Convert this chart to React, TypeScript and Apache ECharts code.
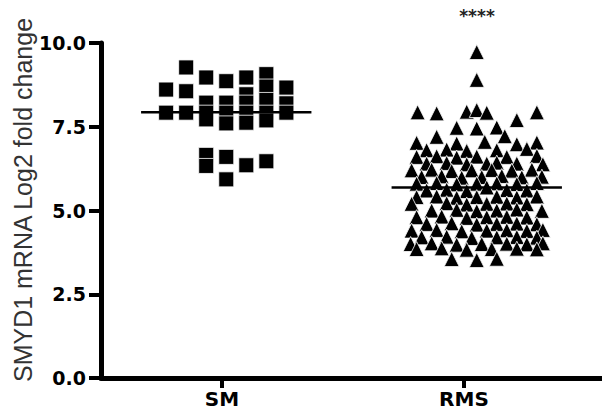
import React, { useEffect, useRef } from 'react';
import * as echarts from 'echarts';

// ---- data ----
const categories = ['SM', 'RMS'];
const groupCenters = [0.5, 1.5];
const categoryTickPositions = [0.483, 1.449];
const yMin = 0;
const yMax = 10;
const yInterval = 2.5;
const yTitle = 'SMYD1 mRNA Log2 fold change';
const significance = '****';

const smValues = [
  8.61, 7.92,
  9.27, 8.56, 7.92,
  8.97, 8.22, 7.92, 7.72, 6.66, 6.33,
  8.86, 8.22, 7.92, 7.6, 6.6, 5.93,
  8.97, 8.47, 8.22, 7.92, 7.62, 6.35,
  9.07, 8.7, 8.3, 7.92, 7.69, 6.47,
  8.67, 8.2, 7.92,
];
const smJitter = [
  -0.24, -0.24,
  -0.16, -0.16, -0.16,
  -0.08, -0.08, -0.08, -0.08, -0.08, -0.08,
  0, 0, 0, 0, 0, 0,
  0.08, 0.08, 0.08, 0.08, 0.08, 0.08,
  0.16, 0.16, 0.16, 0.16, 0.16, 0.16,
  0.24, 0.24, 0.24,
];

const rmsValues = [
  9.73, 8.9,
  7.93, 7.9, 7.95, 8.0, 7.92, 7.93,
  7.7, 7.47, 7.45, 7.48, 7.2, 7.22,
  7.02, 7.0, 7.05, 6.98, 7.03,
  6.8, 6.82, 6.78, 6.8, 6.84,
  6.6, 6.62, 6.58, 6.61, 6.6, 6.63,
  6.4, 6.42, 6.38, 6.4, 6.43, 6.4, 6.38,
  6.2, 6.22, 6.18, 6.2, 6.21, 6.19, 6.22,
  6.0, 6.02, 5.98, 6.0, 6.03, 5.99, 6.01,
  5.8, 5.82, 5.78, 5.8, 5.81, 5.79, 5.82,
  5.6, 5.62, 5.58, 5.69, 5.61, 5.6,
  5.4, 5.42, 5.38, 5.4, 5.41, 5.39, 5.42,
  5.2, 5.22, 5.18, 5.2, 5.21, 5.19,
  5.0, 5.02, 4.98, 5.0, 5.03, 4.99,
  4.8, 4.82, 4.78, 4.8, 4.81, 4.79,
  4.6, 4.62, 4.58, 4.6, 4.61, 4.59,
  4.4, 4.42, 4.38, 4.4, 4.41, 4.39, 4.42,
  4.2, 4.22, 4.18, 4.2, 4.21, 4.19,
  4.0, 4.02, 3.98, 4.0, 4.01, 3.99, 4.02,
  3.85, 3.87, 3.83, 3.85, 3.86, 3.84,
  3.55, 3.52, 3.56,
];
const rmsJitter = [
  0, 0,
  -0.236, -0.16, -0.04, 0, 0.04, 0.24,
  0.16, -0.08, 0, 0.08, -0.16, 0.112,
  -0.24, -0.08, 0.032, 0.16, 0.24,
  -0.2, -0.12, -0.04, 0.08, 0.2,
  -0.24, -0.16, -0.08, 0, 0.12, 0.24,
  -0.2, -0.12, -0.04, 0.04, 0.08, 0.16, 0.264,
  -0.26, -0.18, -0.1, -0.02, 0.06, 0.14, 0.22,
  -0.22, -0.14, -0.06, 0.02, 0.1, 0.18, 0.26,
  -0.24, -0.16, -0.08, 0, 0.08, 0.16, 0.24,
  -0.2, -0.12, -0.04, 0.04, 0.12, 0.2,
  -0.24, -0.16, -0.08, 0, 0.08, 0.16, 0.24,
  -0.26, -0.12, -0.04, 0.04, 0.12, 0.2,
  -0.18, -0.08, 0, 0.08, 0.16, 0.26,
  -0.24, -0.14, -0.04, 0.04, 0.12, 0.2,
  -0.2, -0.1, 0, 0.08, 0.16, 0.24,
  -0.26, -0.16, -0.06, 0.04, 0.12, 0.2, 0.264,
  -0.22, -0.12, -0.02, 0.08, 0.16, 0.24,
  -0.264, -0.18, -0.08, 0.02, 0.12, 0.2, 0.264,
  -0.24, -0.14, -0.04, 0.06, 0.16, 0.24,
  -0.1, 0, 0.08,
];

const medians = [7.93, 5.69];
const medianHalfWidth = 0.34;

export default function App() {
  const ref = useRef<HTMLDivElement>(null);

  useEffect(() => {
    if (!ref.current) return;
    const chart = echarts.init(ref.current, undefined, { renderer: 'svg' });

    const smData = smValues.map((v, i) => [groupCenters[0] + smJitter[i], v]);
    const rmsData = rmsValues.map((v, i) => [groupCenters[1] + rmsJitter[i], v]);

    const medianSeries = medians.map((m, i) => ({
      type: 'line',
      data: [
        [groupCenters[i] - medianHalfWidth, m],
        [groupCenters[i] + medianHalfWidth, m],
      ],
      symbol: 'none',
      lineStyle: { color: '#000', width: 2.5 },
      z: 5,
      silent: true,
    }));

    const option: any = {
      animation: false,
      backgroundColor: '#fff',
      grid: { left: 101, right: 0, top: 43, bottom: 41, containLabel: false },
      xAxis: {
        type: 'value',
        min: 0,
        max: 2,
        splitLine: { show: false },
        axisLine: { show: true, onZero: false, lineStyle: { color: '#000', width: 5 } },
        axisTick: {
          show: true,
          customValues: categoryTickPositions,
          length: 10,
          lineStyle: { color: '#000', width: 4 },
        },
        axisLabel: {
          customValues: categoryTickPositions,
          formatter: (v: number) => {
            let best = 0;
            categoryTickPositions.forEach((p, i) => {
              if (Math.abs(p - v) < Math.abs(categoryTickPositions[best] - v)) best = i;
            });
            return categories[best];
          },
          margin: 11,
          color: '#000',
          fontFamily: 'DejaVu Sans',
          fontWeight: 'bold',
          fontSize: 20,
        },
      },
      yAxis: {
        type: 'value',
        min: yMin,
        max: yMax,
        interval: yInterval,
        splitLine: { show: false },
        axisLine: { show: true, lineStyle: { color: '#000', width: 5 } },
        axisTick: { show: true, length: 12, lineStyle: { color: '#000', width: 4 } },
        axisLabel: {
          formatter: (v: number) => v.toFixed(1),
          margin: 15,
          color: '#000',
          fontFamily: 'DejaVu Sans',
          fontWeight: 'bold',
          fontSize: 19,
        },
      },
      graphic: [
        {
          type: 'text',
          x: 23,
          y: 200,
          rotation: Math.PI / 2,
          style: {
            text: yTitle,
            align: 'center',
            verticalAlign: 'middle',
            fill: '#333',
            font: '25px "Liberation Sans", Arial, sans-serif',
          },
        },
        {
          type: 'text',
          x: 477,
          y: 16,
          style: {
            text: significance,
            align: 'center',
            verticalAlign: 'middle',
            fill: '#222',
            font: 'bold 17px "DejaVu Sans", sans-serif',
          },
        },
      ],
      series: [
        {
          name: categories[0],
          type: 'scatter',
          symbol: 'rect',
          symbolSize: 15,
          data: smData,
          itemStyle: { color: '#000', borderColor: '#fff', borderWidth: 0.8, opacity: 1 },
          z: 3,
        },
        {
          name: categories[1],
          type: 'scatter',
          symbol: 'triangle',
          symbolSize: 15,
          data: rmsData,
          itemStyle: { color: '#000', borderColor: '#fff', borderWidth: 0.8, opacity: 1 },
          z: 3,
        },
        ...medianSeries,
      ],
    };

    chart.setOption(option);
    return () => chart.dispose();
  }, []);

  return (
    <div
      ref={ref}
      style={{ position: 'fixed', left: 0, top: 0, width: 602, height: 419, background: '#fff' }}
    />
  );
}
